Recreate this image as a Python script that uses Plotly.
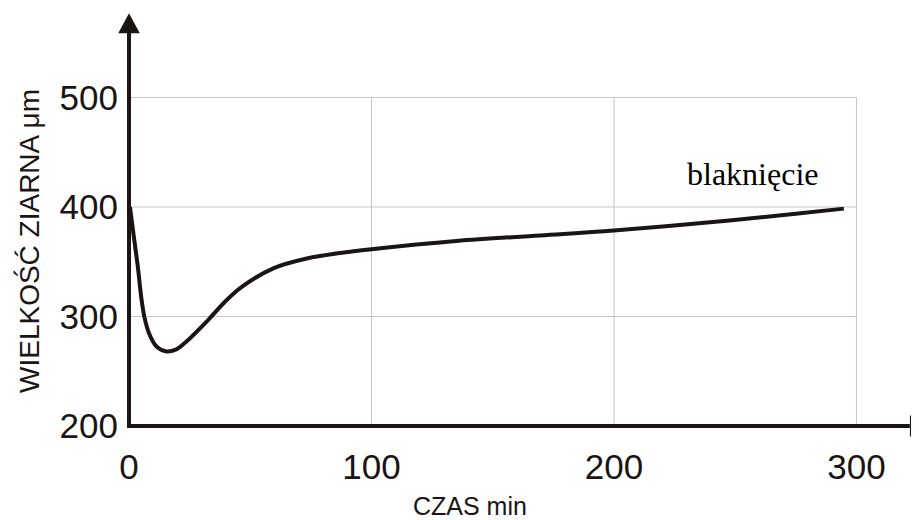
import plotly.graph_objects as go

# ---- data ----
czas_min = [0.4, 1.8, 3.6, 5.2, 6.3, 8.2, 11.4, 15.5, 19.5, 23.1, 32.7, 39.6, 46.5, 59.5,
            73.3, 87, 100, 135, 169.5, 200, 246.5, 274, 294.8]
wielkosc_um = [400, 376, 346, 315, 300, 285, 272.5, 268, 270, 276, 297, 313.5, 327, 344,
               353, 358, 361.5, 369, 374, 378.5, 387.5, 393.5, 398.5]

x_ticks = [0, 100, 200, 300]
y_ticks = [200, 300, 400, 500]
x_title = "CZAS min"
y_title = "WIELKOŚĆ ZIARNA μm"
label_text = "blaknięcie"
label_pos = (257, 430)

# page body has an 8px margin, so the figure is 8px smaller than the window
W, H = 911, 512
X_RANGE = [-9.9, 325.8]
Y_RANGE = [189.95, 581.7]

fig = go.Figure()
fig.add_trace(go.Scatter(
    x=czas_min, y=wielkosc_um, mode="lines",
    line=dict(color="#1a1414", width=4, shape="spline", smoothing=1.0),
    hoverinfo="skip", showlegend=False,
))

grid = dict(color="#c4c4c4", width=1)
shapes = []
for xv in x_ticks[1:]:
    shapes.append(dict(type="line", xref="x", yref="y", x0=xv, x1=xv,
                       y0=y_ticks[0], y1=y_ticks[-1], line=grid, layer="below"))
for yv in y_ticks[1:]:
    shapes.append(dict(type="line", xref="x", yref="y", x0=x_ticks[0], x1=x_ticks[-1],
                       y0=yv, y1=yv, line=grid, layer="below"))

axis_col = "#1a1414"
# axis lines
shapes.append(dict(type="line", xref="x", yref="y", x0=0, x1=0, y0=y_ticks[0] - 1, y1=560,
                   line=dict(color=axis_col, width=4)))
shapes.append(dict(type="line", xref="x", yref="y", x0=-0.8, x1=322, y0=y_ticks[0], y1=y_ticks[0],
                   line=dict(color=axis_col, width=4)))
# arrow heads
shapes.append(dict(type="path", xref="x", yref="y",
                   path="M -4.45 558.6 L 4.45 558.6 L 0 576.9 Z",
                   fillcolor=axis_col, line=dict(width=0)))
shapes.append(dict(type="path", xref="x", yref="y",
                   path="M 322.06 190.1 L 322.06 209.9 L 330.3 200 Z",
                   fillcolor=axis_col, line=dict(width=0)))

PA_L, PA_W, PA_B, PA_H = 105, 814, 437, 429  # plot area in window pixels

fig.update_layout(
    width=W, height=H,
    margin=dict(l=97, r=0, t=0, b=83, autoexpand=False),
    paper_bgcolor="white", plot_bgcolor="white",
    shapes=shapes,
    xaxis=dict(range=X_RANGE, tickvals=x_ticks, showgrid=False, zeroline=False,
               showline=False, ticks="", fixedrange=True, automargin=False,
               tickfont=dict(family="Liberation Sans, Arial", size=35, color="#1a1414"),
               ticklabelstandoff=6),
    yaxis=dict(range=Y_RANGE, tickvals=y_ticks, showgrid=False, zeroline=False,
               showline=False, ticks="", fixedrange=True, automargin=False,
               tickfont=dict(family="Liberation Sans, Arial", size=35, color="#1a1414"),
               ticklabelstandoff=-14),
    annotations=[
        dict(text=y_title, xref="paper", yref="paper", x=(29 - PA_L) / PA_W, y=(PA_B - 241) / PA_H,
             textangle=-90, showarrow=False, xanchor="center", yanchor="middle",
             font=dict(family="Liberation Sans, Arial", size=28, color="#1a1414")),
        dict(text=x_title, xref="paper", yref="paper", x=(469.7 - PA_L) / PA_W, y=(PA_B - 506) / PA_H,
             showarrow=False, xanchor="center", yanchor="middle",
             font=dict(family="Liberation Sans, Arial", size=25, color="#1a1414")),
        dict(text=label_text, xref="x", yref="y", x=label_pos[0], y=label_pos[1],
             showarrow=False, xanchor="center", yanchor="middle",
             font=dict(family="Liberation Serif, Times New Roman", size=32, color="#000000")),
    ],
)

fig.write_html("out.html")
